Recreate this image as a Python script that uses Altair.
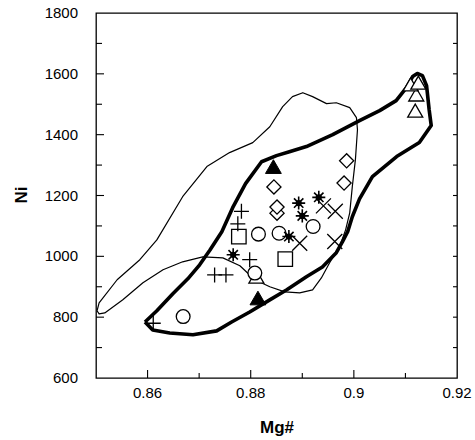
import altair as alt
import pandas as pd

# ---- outline curves (Mg#, Ni) ----
thin_mg = [0.8502, 0.8506, 0.8541, 0.8585, 0.8618, 0.8668, 0.8715, 0.8759, 0.8804, 0.8837,
           0.8862, 0.8881, 0.8901, 0.8920, 0.8947, 0.8966, 0.8992, 0.9005, 0.9007, 0.9003,
           0.8997, 0.8992, 0.8984, 0.8972, 0.8953, 0.8937, 0.8920, 0.8895, 0.8866, 0.8837,
           0.8808, 0.8779, 0.8746, 0.8707, 0.8668, 0.8630, 0.8591, 0.8552, 0.8517, 0.8506, 0.8502]
thin_ni = [821, 847, 923, 989, 1054, 1196, 1295, 1341, 1374, 1426,
           1492, 1525, 1538, 1525, 1502, 1505, 1489, 1456, 1416, 1318,
           1229, 1143, 1087, 1031, 979, 929, 890, 880, 883, 900,
           923, 969, 995, 998, 982, 956, 913, 857, 814, 811, 821]

thick_mg = [0.8595, 0.8618, 0.8649, 0.8678, 0.8701, 0.8721, 0.8744, 0.8765, 0.8790, 0.8821,
            0.8850, 0.8875, 0.8908, 0.8959, 0.9011, 0.9050, 0.9082, 0.9102, 0.9114, 0.9123,
            0.9133, 0.9141, 0.9146, 0.9150, 0.9127, 0.9083, 0.9036, 0.9011, 0.8997, 0.8988,
            0.8978, 0.8966, 0.8939, 0.8908, 0.8870, 0.8837, 0.8798, 0.8763, 0.8734, 0.8688,
            0.8643, 0.8610, 0.8595]
thick_ni = [784, 821, 877, 926, 972, 1021, 1081, 1160, 1239, 1311,
            1331, 1344, 1361, 1400, 1446, 1479, 1512, 1555, 1591, 1601,
            1594, 1561, 1482, 1430, 1374, 1328, 1262, 1189, 1130, 1081,
            1048, 1012, 965, 933, 890, 857, 817, 784, 755, 742,
            748, 758, 784]

# ---- sample points ----
circle_mg = [0.8815, 0.8855, 0.8921, 0.8808, 0.8669]
circle_ni = [1073, 1076, 1098, 945, 802]
square_mg = [0.8777, 0.8867]
square_ni = [1065, 991]
diamond_mg = [0.8851, 0.8851, 0.8845, 0.8986, 0.8981]
diamond_ni = [1142, 1162, 1228, 1314, 1241]
plus_mg = [0.8782, 0.8775, 0.8798, 0.8730, 0.8752, 0.8611]
plus_ni = [1148, 1107, 989, 939, 939, 780]
xmark_mg = [0.8941, 0.8964, 0.8895, 0.8963]
xmark_ni = [1166, 1148, 1043, 1049]
star_mg = [0.8893, 0.8932, 0.8900, 0.8874, 0.8766]
star_ni = [1175, 1194, 1133, 1065, 1005]
tri_filled_mg = [0.8844, 0.8814]
tri_filled_ni = [1295, 863]
tri_open_mg = [0.8811, 0.9121, 0.9110, 0.9125, 0.9119]
tri_open_ni = [933, 1532, 1565, 1571, 1479]

# ---- axis ticks and labels ----
x_label_vals = [0.86, 0.88, 0.9, 0.92]
x_label_text = ["0.86", "0.88", "0.9", "0.92"]
x_major_vals = [0.86, 0.88, 0.9]
x_minor_vals = [0.87, 0.89, 0.91]
y_label_vals = [600, 800, 1000, 1200, 1400, 1600, 1800]
y_label_text = ["600", "800", "1000", "1200", "1400", "1600", "1800"]
y_major_vals = [800, 1000, 1200, 1400, 1600]
y_minor_vals = [700, 900, 1100, 1300, 1500, 1700]
y_right_vals = [700, 800, 900, 1000, 1100, 1200, 1300, 1400, 1500, 1600, 1700]
x_title = "Mg#"
y_title = "Ni"

FONT = "Liberation Sans"
W, H = 361, 365
X0, X1 = 0.85, 0.92
Y0, Y1 = 600, 1800
PX_X = (X1 - X0) / W   # Mg# units per pixel
PX_Y = (Y1 - Y0) / H   # Ni units per pixel


def df(xs, ys):
    return pd.DataFrame({"mg": xs, "ni": ys, "i": list(range(len(xs)))})


xs = alt.Scale(domain=[X0, X1], nice=False, zero=False)
ys = alt.Scale(domain=[Y0, Y1], nice=False, zero=False)


def X(f="mg"):
    return alt.X(f + ":Q", scale=xs, axis=None)


def Y(f="ni"):
    return alt.Y(f + ":Q", scale=ys, axis=None)


def enc(ch):
    return ch.encode(x=X(), y=Y())


# inward tick segments (two points per tick), built from the tick values
seg = []
g = 0


def add(xa, ya, xb, yb):
    global g
    seg.append({"mg": xa, "ni": ya, "g": g, "i": 0})
    seg.append({"mg": xb, "ni": yb, "g": g, "i": 1})
    g += 1


for v in x_major_vals:
    add(v, Y0, v, Y0 + 8 * PX_Y)
for v in x_minor_vals:
    add(v, Y0, v, Y0 + 5 * PX_Y)
for v in y_major_vals:
    add(X0, v, X0 + 8 * PX_X, v)
for v in y_minor_vals:
    add(X0, v, X0 + 6 * PX_X, v)
for v in y_right_vals:
    add(X1 - 4 * PX_X, v, X1, v)
ticks = alt.Chart(pd.DataFrame(seg)).mark_line(color="black", strokeWidth=1.1).encode(
    x=X(), y=Y(), detail="g:N", order="i:Q")

x_labels = alt.Chart(pd.DataFrame({"mg": x_label_vals, "t": x_label_text})).mark_text(
    font=FONT, fontSize=15, color="black", align="center", baseline="top").encode(
    x=X(), y=alt.value(H + 8), text="t:N")
y_labels = alt.Chart(pd.DataFrame({"ni": y_label_vals, "t": y_label_text})).mark_text(
    font=FONT, fontSize=15, color="black", align="right", baseline="middle").encode(
    y=Y(), x=alt.value(-18), text="t:N")
x_title_mark = alt.Chart(pd.DataFrame({"t": [x_title]})).mark_text(
    font=FONT, fontSize=17, fontWeight="bold", color="black", align="center",
    baseline="alphabetic").encode(x=alt.value(181), y=alt.value(H + 55), text="t:N")
y_title_mark = alt.Chart(pd.DataFrame({"t": [y_title]})).mark_text(
    font=FONT, fontSize=17, fontWeight="bold", color="black", align="center",
    baseline="middle", angle=270).encode(x=alt.value(-74), y=alt.value(182), text="t:N")

thin = enc(alt.Chart(df(thin_mg, thin_ni)).mark_line(color="black", strokeWidth=1.2,
                                                    strokeJoin="round")).encode(order="i:Q")
thick = enc(alt.Chart(df(thick_mg, thick_ni)).mark_line(color="black", strokeWidth=3.6,
                                                       strokeJoin="round")).encode(order="i:Q")

PLUS = "M-1,0L1,0M0,-1L0,1"
XM = "M-1,-1L1,1M-1,1L1,-1"
STAR = "M-1,0L1,0M0,-1L0,1M-0.72,-0.72L0.72,0.72M-0.72,0.72L0.72,-0.72"

tri_open = enc(alt.Chart(df(tri_open_mg, tri_open_ni)).mark_point(
    shape="triangle-up", filled=True, fill="white", stroke="black", strokeWidth=1.3, size=225,
    opacity=1))
tri_fill = enc(alt.Chart(df(tri_filled_mg, tri_filled_ni)).mark_point(
    shape="triangle-up", filled=True, fill="black", stroke="black", strokeWidth=1, size=250,
    opacity=1))
circles = enc(alt.Chart(df(circle_mg, circle_ni)).mark_point(
    shape="circle", filled=True, fill="white", stroke="black", strokeWidth=1.3, size=190,
    opacity=1))
squares = enc(alt.Chart(df(square_mg, square_ni)).mark_point(
    shape="square", filled=True, fill="white", stroke="black", strokeWidth=1.3, size=210,
    opacity=1))
diamonds = enc(alt.Chart(df(diamond_mg, diamond_ni)).mark_point(
    shape="diamond", filled=True, fill="white", stroke="black", strokeWidth=1.3, size=200,
    opacity=1))
pluses = enc(alt.Chart(df(plus_mg, plus_ni)).mark_point(
    shape=PLUS, filled=False, stroke="black", strokeWidth=1.3, size=225, opacity=1))
xmarks = enc(alt.Chart(df(xmark_mg, xmark_ni)).mark_point(
    shape=XM, filled=False, stroke="black", strokeWidth=1.3, size=225, opacity=1))
stars = enc(alt.Chart(df(star_mg, star_ni)).mark_point(
    shape=STAR, filled=False, stroke="black", strokeWidth=1.6, size=170, opacity=1))
star_dots = enc(alt.Chart(df(star_mg, star_ni)).mark_point(
    shape="circle", filled=True, fill="black", stroke="black", size=18, opacity=1))

chart = alt.layer(
    thin, thick, ticks,
    tri_open, tri_fill, circles, squares, diamonds, pluses, xmarks, stars, star_dots,
    x_labels, y_labels, x_title_mark, y_title_mark,
).properties(
    width=W, height=H,
    autosize=alt.AutoSizeParams(type="none"),
    padding={"left": 96, "top": 13, "right": 18, "bottom": 62},
    background="white",
).configure_view(stroke="black", strokeWidth=1.3)

chart.save("out.html", embed_options={"renderer": "svg", "actions": False})
